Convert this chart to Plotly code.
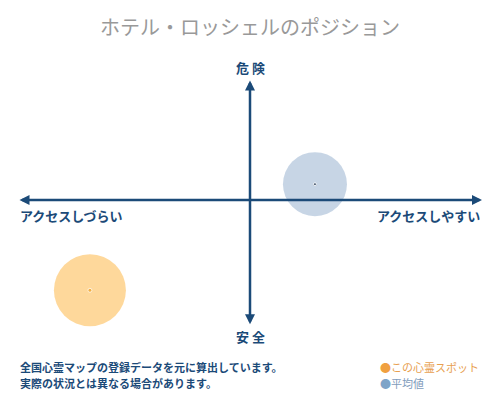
import plotly.graph_objects as go

title = "ホテル・ロッシェルのポジション"
axis_labels = ["危険", "安全", "アクセスしづらい", "アクセスしやすい"]
notes = ["全国心霊マップの登録データを元に算出しています。", "実際の状況とは異なる場合があります。"]

# position on the access (x) / danger (y) plane, -1..1
names = ["この心霊スポット", "平均値"]
x_vals = [-0.69, 0.28]
y_vals = [-0.74, 0.13]

navy = "#1b4a78"
font = "Noto Sans CJK JP"

# page has an 8px body margin, so the figure is a bit smaller than the window
W, H = 492, 392

fig = go.Figure()

# big bubbles
fig.add_trace(go.Scatter(x=x_vals, y=y_vals, mode="markers",
    marker=dict(size=[72, 64], color=["#fdc870", "#afc3da"], line=dict(width=0)),
    hoverinfo="skip", showlegend=False))
# centre dots
fig.add_trace(go.Scatter(x=x_vals, y=y_vals, mode="markers",
    marker=dict(size=[4, 3], color=["#f0a020", "#1b2a40"]),
    hoverinfo="skip", showlegend=False))

# axes arrows
fig.add_annotation(x=1, y=0, ax=-1, ay=0, xref="x", yref="y", axref="x", ayref="y",
    showarrow=True, arrowhead=2, arrowside="end+start", arrowsize=0.8, arrowwidth=2.5, arrowcolor=navy, text="")
fig.add_annotation(x=0, y=0.98, ax=0, ay=-1.03, xref="x", yref="y", axref="x", ayref="y",
    showarrow=True, arrowhead=2, arrowside="end+start", arrowsize=0.8, arrowwidth=2.5, arrowcolor=navy, text="")

lab_font = dict(family=font, size=13, color=navy)
fig.add_annotation(x=0, y=1.09, xref="x", yref="y", text="<b>" + " ".join(axis_labels[0]) + "</b>",
    showarrow=False, font=lab_font)
fig.add_annotation(x=0, y=-1.12, xref="x", yref="y", text="<b>" + " ".join(axis_labels[1]) + "</b>",
    showarrow=False, font=lab_font)
fig.add_annotation(x=-1, y=-0.13, xref="x", yref="y", text="<b>" + axis_labels[2] + "</b>",
    showarrow=False, xanchor="left", font=dict(family=font, size=13, color=navy))
fig.add_annotation(x=1, y=-0.13, xref="x", yref="y", text="<b>" + axis_labels[3] + "</b>",
    showarrow=False, xanchor="right", font=dict(family=font, size=13, color=navy))

# footnotes
fig.add_annotation(x=0.02, y=0.084, xref="paper", yref="paper", xanchor="left", yanchor="middle",
    text="<b>" + notes[0] + "</b>", showarrow=False, font=dict(family=font, size=11, color=navy))
fig.add_annotation(x=0.02, y=0.043, xref="paper", yref="paper", xanchor="left", yanchor="middle",
    text="<b>" + notes[1] + "</b>", showarrow=False, font=dict(family=font, size=11, color=navy))

# legend
fig.add_annotation(x=0.752, y=0.084, xref="paper", yref="paper", xanchor="left", yanchor="middle",
    text="<span style='color:#f0a040'>●</span>" + names[0], showarrow=False,
    font=dict(family=font, size=11, color="#e8a050"))
fig.add_annotation(x=0.752, y=0.043, xref="paper", yref="paper", xanchor="left", yanchor="middle",
    text="<span style='color:#7fa4c8'>●</span>" + names[1], showarrow=False,
    font=dict(family=font, size=11, color="#7f9cbc"))

fig.update_layout(
    width=W, height=H,
    margin=dict(l=0, r=0, t=0, b=0),
    paper_bgcolor="white", plot_bgcolor="white",
    title=dict(text=title, x=0.492, y=0.949, xanchor="center", yanchor="middle",
               font=dict(family=font, size=20, color="#999999")),
    xaxis=dict(range=[-242 / 232, 250 / 232], visible=False, fixedrange=True),
    yaxis=dict(range=[-200 / 122, 192 / 122], visible=False, fixedrange=True),
    showlegend=False,
)

fig.write_html("out.html")
